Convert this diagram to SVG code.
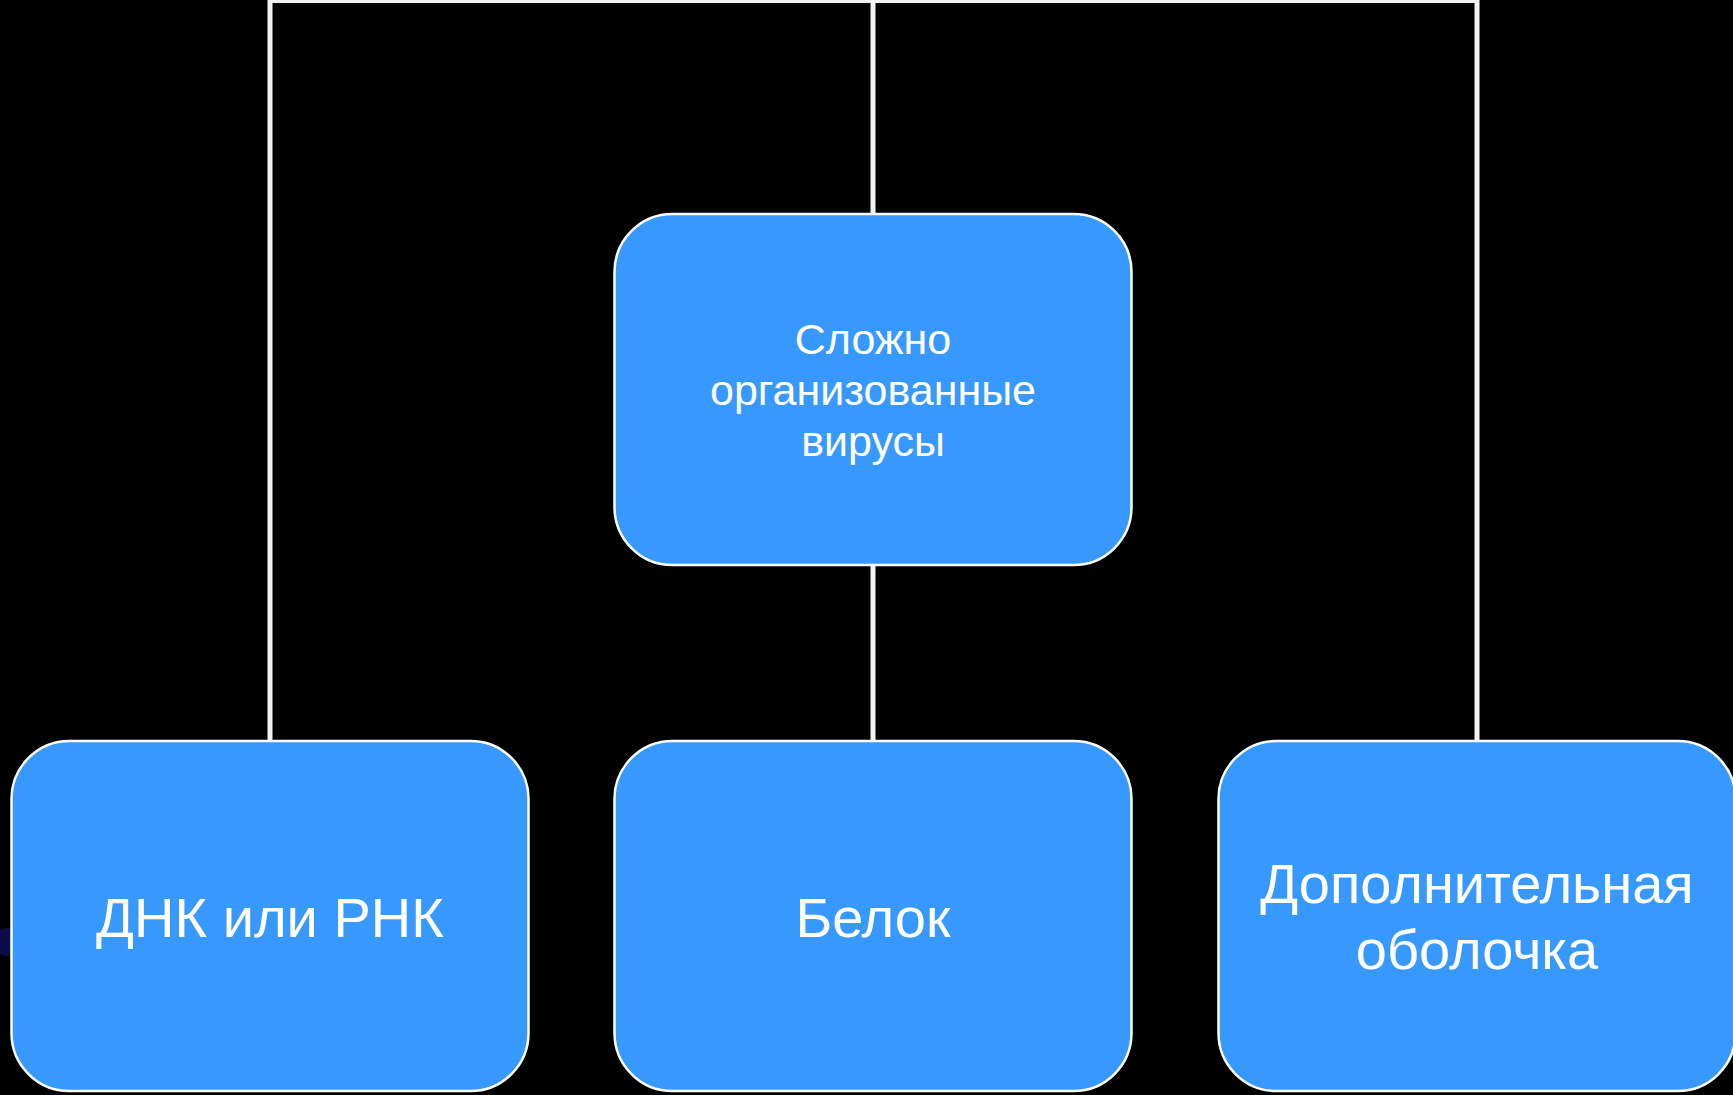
<svg xmlns="http://www.w3.org/2000/svg" width="1733" height="1095" viewBox="0 0 1733 1095">
  <style>
    .box { fill: #3799FE; stroke: #FFFFFF; stroke-width: 2.5; }
    .conn { stroke: #F2F2F2; stroke-width: 5; fill: none; }
    .lbl { font-family: "Liberation Sans", Arial, sans-serif; fill: #FFFFFF; text-anchor: middle; }
    .small { font-size: 43px; }
    .big { font-size: 56px; }
  </style>
  <rect x="0" y="0" width="1733" height="1095" fill="#000000"/>
  <ellipse cx="6" cy="942" rx="12" ry="14" fill="#0B0B4A"/>
  <g id="connectors">
    <path class="conn" d="M270,0.5 H1477"/>
    <path class="conn" d="M270,0 V741"/>
    <path class="conn" d="M873,0 V214"/>
    <path class="conn" d="M873,565 V741"/>
    <path class="conn" d="M1477,0 V741"/>
  </g>
  <g id="node-root">
    <rect class="box" x="614.5" y="214" width="517" height="351" rx="58" ry="58"/>
    <text class="lbl small" x="873" y="354">Сложно</text>
    <text class="lbl small" x="873" y="405">организованные</text>
    <text class="lbl small" x="873" y="456">вирусы</text>
  </g>
  <g id="node-dna">
    <rect class="box" x="11.5" y="741" width="517" height="350" rx="58" ry="58"/>
    <text class="lbl big" x="270" y="937">ДНК или РНК</text>
  </g>
  <g id="node-protein">
    <rect class="box" x="614.5" y="741" width="517" height="350" rx="58" ry="58"/>
    <text class="lbl big" x="873" y="937">Белок</text>
  </g>
  <g id="node-envelope">
    <rect class="box" x="1218.5" y="741" width="517" height="350" rx="58" ry="58"/>
    <text class="lbl big" x="1477" y="903">Дополнительная</text>
    <text class="lbl big" x="1477" y="969">оболочка</text>
  </g>
</svg>
